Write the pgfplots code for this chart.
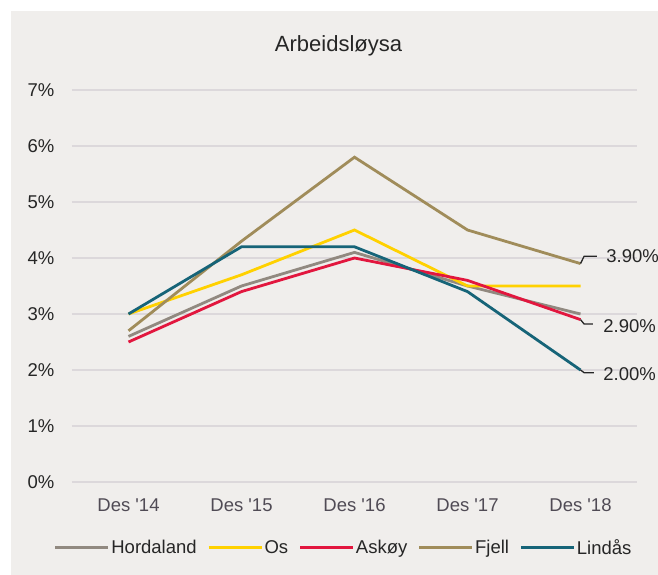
\documentclass[border=0pt]{standalone}
\usepackage{fontspec}
\setmainfont{Liberation Sans}[Ligatures=TeXOff]
\usepackage{pgfplots}
\pgfplotsset{compat=1.18}

\definecolor{bg}{RGB}{240,238,236}
\definecolor{gridc}{RGB}{220,216,219}
\definecolor{hord}{RGB}{145,137,128}
\definecolor{os}{RGB}{255,209,0}
\definecolor{askoy}{RGB}{226,22,62}
\definecolor{fjell}{RGB}{160,140,90}
\definecolor{lindas}{RGB}{22,100,120}
\definecolor{txt}{RGB}{38,38,38}
\definecolor{xtxt}{RGB}{80,75,85}

\begin{document}
\begin{tikzpicture}
\useasboundingbox (-72pt,-93pt) rectangle (586pt,482pt);
\fill[white] (-72pt,-93pt) rectangle (586pt,482pt);
\fill[bg] (-61pt,-93pt) rectangle (586pt,471pt);
\begin{axis}[
    scale only axis, width=565pt, height=392pt,
    xmin=-0.5, xmax=4.5, ymin=0, ymax=7,
    clip=false,
    axis line style={draw=none},
    major tick length=0pt,
    ymajorgrids, major grid style={gridc, line width=2pt},
    xtick={0,1,2,3,4},
    xticklabels={Des \textquotesingle14, Des \textquotesingle15, Des \textquotesingle16, Des \textquotesingle17, Des \textquotesingle18},
    ytick={0,1,2,3,4,5,6,7},
    yticklabels={0\%,1\%,2\%,3\%,4\%,5\%,6\%,7\%},
    tick label style={font=\fontsize{18.5}{20}\selectfont},
    xticklabel style={anchor=base, inner sep=0pt, yshift=-29pt, text=xtxt},
    yticklabel style={anchor=east, inner sep=0pt, xshift=-17.5pt, text=txt},
    every axis plot/.append style={line width=2.8pt},
    legend columns=-1,
    legend image code/.code={\draw[#1] (0pt,0pt) -- (53pt,0pt);},
    legend style={at={(0.4805,-0.168)}, anchor=center, draw=none, fill=none,
        font=\fontsize{18.5}{20}\selectfont, text=txt,
        nodes={inner xsep=1.5pt, inner ysep=1pt},
        /tikz/every even column/.append style={column sep=9pt}},
]
\addplot[hord] coordinates {(0,2.6) (1,3.5) (2,4.1) (3,3.5) (4,3.0)};
\addlegendentry{Hordaland}
\addplot[os] coordinates {(0,3.0) (1,3.7) (2,4.5) (3,3.5) (4,3.5)};
\addlegendentry{Os}
\addplot[askoy] coordinates {(0,2.5) (1,3.4) (2,4.0) (3,3.6) (4,2.9)};
\addlegendentry{Askøy}
\addplot[fjell] coordinates {(0,2.7) (1,4.3) (2,5.8) (3,4.5) (4,3.9)};
\addlegendentry{Fjell}
\addplot[lindas] coordinates {(0,3.0) (1,4.2) (2,4.2) (3,3.4) (4,2.0)};
\addlegendentry{Lindås}

\node[anchor=base, font=\fontsize{22}{24}\selectfont, text=txt]
    at (axis description cs:0.4717,1.097) {Arbeidsløysa};

\draw[txt, line width=1.3pt] (axis cs:4,3.9) -- ++(3.6pt,7.3pt) -- ++(12.7pt,0pt)
    node[anchor=west, inner sep=0pt, xshift=9pt, font=\fontsize{18.5}{20}\selectfont, text=txt] {3.90\%};
\draw[txt, line width=1.3pt] (axis cs:4,2.9) -- ++(3.6pt,-4.4pt) -- ++(8.7pt,0pt)
    node[anchor=west, inner sep=0pt, xshift=10pt, yshift=-2pt, font=\fontsize{18.5}{20}\selectfont, text=txt] {2.90\%};
\draw[txt, line width=1.3pt] (axis cs:4,2.0) -- ++(3.6pt,-2.7pt) -- ++(9.7pt,0pt)
    node[anchor=west, inner sep=0pt, xshift=9pt, yshift=-1pt, font=\fontsize{18.5}{20}\selectfont, text=txt] {2.00\%};
\end{axis}
\end{tikzpicture}
\end{document}
